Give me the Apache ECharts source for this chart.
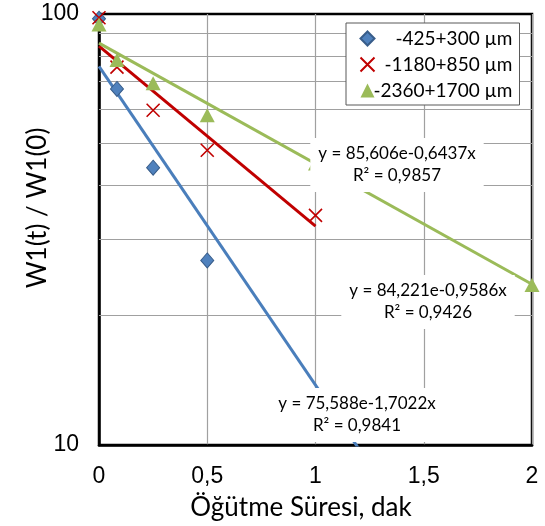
<!DOCTYPE html>
<html><head><meta charset="utf-8">
<script src="https://cdn.jsdelivr.net/npm/echarts@6/dist/echarts.min.js"></script>
<style>html,body{margin:0;padding:0;background:#fff}#c{width:545px;height:526px}</style>
</head><body><div id="c"></div>
<script>
// ---- data ----
const seriesNames = ['-425+300 µm', '-1180+850 µm', '-2360+1700 µm'];
const s1x = [0, 0.083, 0.25, 0.5];
const s1y = [97.5, 67, 44, 26.8];
const s2x = [0, 0.083, 0.25, 0.5, 1];
const s2y = [98, 75.3, 59.8, 48.3, 34.1];
const s3x = [0, 0.083, 0.25, 0.5, 1, 2];
const s3y = [94.5, 78.2, 69.1, 58.2, 45, 23.5];
// trendline end points (exponential fits => straight lines on log axis)
const t1x = [0, 1.2];  const t1y = [75.588, 9.8];
const t2x = [0, 1];    const t2y = [84.221, 32.2];
const t3x = [0, 2];    const t3y = [85.606, 23.6];
const eqTexts = [
  'y = 75,588e-1,7022x\nR² = 0,9841',
  'y = 84,221e-0,9586x\nR² = 0,9426',
  'y = 85,606e-0,6437x\nR² = 0,9857'
];
const xTicks = [0, 0.5, 1, 1.5, 2];
const yGridValues = [20, 30, 40, 50, 60, 70, 80, 90];
const xTitle = 'Öğütme Süresi, dak';
const yTitle = 'W1(t) / W1(0)';

const zip = (a, b) => a.map((v, i) => [v, b[i]]);
const BLUE = '#4f81bd', RED = '#c00000', GREEN = '#9bbb59';
const LINE_BLUE = '#4a7ebb';
const GRID = '#a0a0a0';

const chart = echarts.init(document.getElementById('c'));
const eqStyle = t => ({ text: t, font: '17px Lato', fill: '#000', align: 'center', verticalAlign: 'middle', lineHeight: 22, backgroundColor: '#fff', padding: [5, 8] });
chart.setOption({
  animation: false,
  grid: { left: 99, right: 13, top: 14, bottom: 81, show: true, borderColor: '#000', borderWidth: 2.5, backgroundColor: 'transparent' },
  xAxis: {
    type: 'value', min: 0, max: 2, interval: 0.5,
    axisLine: { show: true, lineStyle: { color: '#000', width: 2.5 } },
    axisTick: { show: false },
    axisLabel: { fontFamily: 'Liberation Sans', fontSize: 23, color: '#000', margin: 20,
      formatter: v => String(v).replace('.', ',') },
    splitLine: { show: true, lineStyle: { color: GRID, width: 1.2 } }
  },
  yAxis: {
    type: 'log', logBase: 10, min: 10, max: 100,
    axisLine: { show: true, lineStyle: { color: '#000', width: 2.5 } },
    axisTick: { show: false },
    axisLabel: { fontFamily: 'Liberation Sans', fontSize: 23, color: '#000', margin: 20 },
    splitLine: { show: false }
  },
  legend: {
    left: 346, top: 23, orient: 'vertical',
    backgroundColor: '#fff', borderColor: '#595959', borderWidth: 1,
    padding: [6, 7, 5, 12], itemGap: 7, itemWidth: 14, itemHeight: 14,
    data: seriesNames,
    formatter: n => '{a|' + n + '}',
    textStyle: { fontFamily: 'Lato', fontSize: 19, color: '#000',
      rich: { a: { fontFamily: 'Lato', fontSize: 19, width: 133, align: 'right' } } }
  },
  graphic: [
    { type: 'text', z: 100, x: 357, y: 415, style: eqStyle(eqTexts[0]) },
    { type: 'text', z: 100, x: 428, y: 302, style: eqStyle(eqTexts[1]) },
    { type: 'text', z: 100, x: 397, y: 165, style: eqStyle(eqTexts[2]) },
    { type: 'text', x: 301, y: 508, style: { text: xTitle, font: '26px Lato', fill: '#000', align: 'center', verticalAlign: 'middle' } },
    { type: 'text', x: 38, y: 208, rotation: Math.PI / 2, style: { text: yTitle, font: '26px Lato', fill: '#000', align: 'center', verticalAlign: 'middle' } }
  ],
  series: [
    { type: 'line', data: zip(t1x, t1y), symbol: 'none', lineStyle: { color: LINE_BLUE, width: 3 }, z: 3, silent: true,
      markLine: { silent: true, symbol: 'none', label: { show: false }, lineStyle: { color: GRID, width: 1.2, type: 'solid' },
        data: yGridValues.map(v => ({ yAxis: v })), z: 1 } },
    { type: 'line', data: zip(t2x, t2y), symbol: 'none', lineStyle: { color: RED, width: 3 }, z: 3, silent: true },
    { type: 'line', data: zip(t3x, t3y), symbol: 'none', lineStyle: { color: GREEN, width: 3 }, z: 3, silent: true },
    { name: seriesNames[0], type: 'scatter', data: zip(s1x, s1y), symbol: 'diamond', symbolSize: [13, 15], clip: false, z: 5,
      itemStyle: { color: BLUE, borderColor: '#385d8a', borderWidth: 1, opacity: 1 } },
    { name: seriesNames[1], type: 'scatter', data: zip(s2x, s2y), symbol: 'path://M0,0L10,10M10,0L0,10', symbolSize: 13, clip: false, z: 5,
      itemStyle: { color: 'none', borderColor: RED, borderWidth: 1.6, opacity: 1 } },
    { name: seriesNames[2], type: 'scatter', data: zip(s3x, s3y), symbol: 'triangle', symbolSize: [15, 14], clip: false, z: 5,
      itemStyle: { color: GREEN, opacity: 1 } }
  ]
});
</script></body></html>
